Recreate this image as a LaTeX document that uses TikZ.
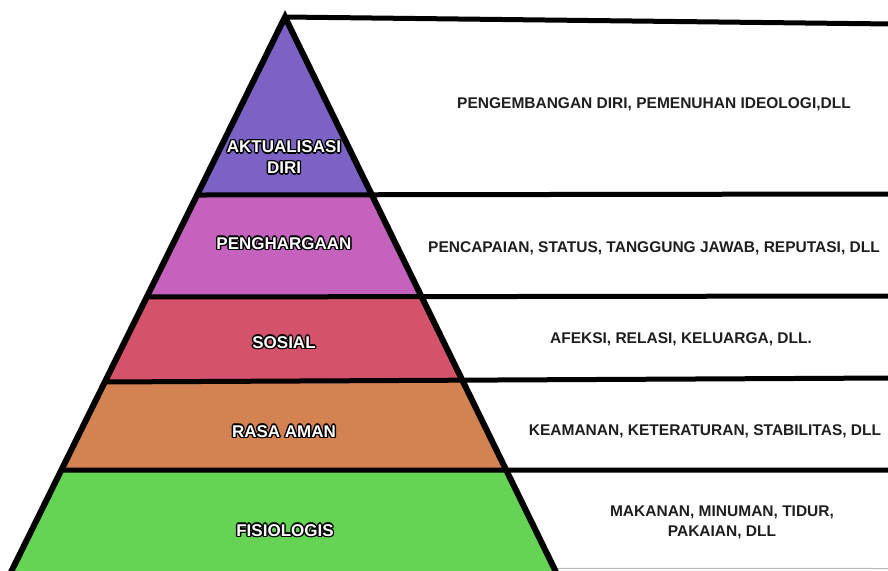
\documentclass[tikz,border=0pt]{standalone}
\usepackage{fontspec}
\setmainfont{Liberation Sans}
\usetikzlibrary{calc}
\definecolor{cAkt}{HTML}{7B62C4}
\definecolor{cPen}{HTML}{C462BE}
\definecolor{cSos}{HTML}{D4526C}
\definecolor{cRas}{HTML}{D38352}
\definecolor{cFis}{HTML}{65D454}
\definecolor{descgray}{HTML}{1E1E1E}
\newcommand\olpiece[2]{\rlap{\kern#1\raisebox{#2}{\textcolor{black}{\copy0}}}}
\newcommand\olt[1]{\setbox0=\hbox{#1}%
  \olpiece{1.4pt}{0pt}\olpiece{-1.4pt}{0pt}\olpiece{0pt}{1.4pt}\olpiece{0pt}{-1.4pt}%
  \olpiece{1pt}{1pt}\olpiece{-1pt}{1pt}\olpiece{1pt}{-1pt}\olpiece{-1pt}{-1pt}%
  \textcolor{white}{\copy0}}
\tikzset{
  tierlbl/.style={font=\fontsize{17}{21}\selectfont\bfseries, align=center, inner sep=0pt},
  onecap/.style={text height=12.2pt, text depth=0pt},
  desc/.style={font=\fontsize{15.5}{20}\selectfont\bfseries, text=descgray, align=center, inner sep=0pt},
  desccap/.style={text height=11.1pt, text depth=0pt},
  sepline/.style={draw=black, line width=5pt},
  edgeline/.style={draw=black, line width=6pt, line join=miter},
}
\begin{document}
\begin{tikzpicture}[x=1pt,y=-1pt]
\useasboundingbox (0,0) rectangle (888,570);
\coordinate (A) at (285,17);
\coordinate (BL) at (12,570);
\coordinate (BR) at (555,570);
\foreach \n/\t in {1/0.3219,2/0.5063,3/0.6600,4/0.8192} {
  \coordinate (L\n) at ($(A)!\t!(BL)$);
  \coordinate (R\n) at ($(A)!\t!(BR)$);
}
\coordinate (L5) at ($(A)!1.03!(BL)$);
\coordinate (R5) at ($(A)!1.03!(BR)$);
\coordinate (G) at ($(A)!0.997!(BR)$);
\coordinate (E0) at (892,24);
\coordinate (E1) at (892,194);
\coordinate (E2) at (892,296);
\coordinate (E3) at (892,378);
\coordinate (E4) at (892,470);
\coordinate (E5) at (892,568.5);
% tiers
\fill[cAkt] (A) -- (R1) -- (L1) -- cycle;
\fill[cPen] (L1) -- (R1) -- (R2) -- (L2) -- cycle;
\fill[cSos] (L2) -- (R2) -- (R3) -- (L3) -- cycle;
\fill[cRas] (L3) -- (R3) -- (R4) -- (L4) -- cycle;
\fill[cFis] (L4) -- (R4) -- (R5) -- (L5) -- cycle;
% separators
\draw[gray!55, line width=1pt] (G) -- (E5);
\draw[sepline] (A) -- (E0);
\draw[sepline] (L1) -- (E1);
\draw[sepline] (L2) -- (E2);
\draw[sepline] (L3) -- (E3);
\draw[sepline] (L4) -- (E4);
% pyramid outline
\draw[edgeline] (L5) -- (A) -- (R5);
% tier labels
\node[tierlbl] (tAkt) at (284,157.5) {\olt{AKTUALISASI}\\\olt{DIRI}};
\node[tierlbl, onecap] (tPen) at (284,243) {\olt{PENGHARGAAN}};
\node[tierlbl, onecap] (tSos) at (284,342) {\olt{SOSIAL}};
\node[tierlbl, onecap] (tRas) at (284,431) {\olt{RASA AMAN}};
\node[tierlbl, onecap] (tFis) at (285,530) {\olt{FISIOLOGIS}};
% descriptions
\node[desc, desccap] (dAkt) at (654,103) {PENGEMBANGAN DIRI, PEMENUHAN IDEOLOGI,DLL};
\node[desc, desccap] (dPen) at (654,247) {PENCAPAIAN, STATUS, TANGGUNG JAWAB, REPUTASI, DLL};
\node[desc, desccap] (dSos) at (681,338) {AFEKSI, RELASI, KELUARGA, DLL.};
\node[desc, desccap] (dRas) at (705,430) {KEAMANAN, KETERATURAN, STABILITAS, DLL};
\node[desc] (dFis) at (722,522) {MAKANAN, MINUMAN, TIDUR,\\PAKAIAN, DLL};
\end{tikzpicture}
\end{document}
